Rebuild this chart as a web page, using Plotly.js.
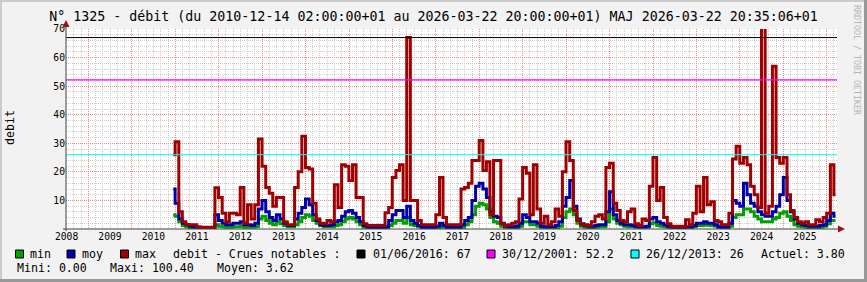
<!DOCTYPE html>
<html><head><meta charset="utf-8">
<script src="https://cdn.plot.ly/plotly-3.0.1.min.js"></script>
<style>html,body{margin:0;padding:0;background:#f2f2f2;}#chart{width:867px;height:282px;}</style>
</head><body><div id="chart"></div>
<script>
// ---------- DATA ----------
const seriesNames = ['min', 'moy', 'max'];
const seriesColors = ['#00a000', '#0000a8', '#a00000'];
const firstMonth = {year: 2010, month: 12};   // first monthly value: Dec 2010 (to Mar 2026)

const maxValues = [
  26,
  30.5, 6, 2.5, 1.5, 1.5, 1.5, 0.8, 0.6, 0.6, 0.6, 0.6, 14.4,
  11, 5.5, 2.5, 5.5, 5.5, 5, 14.5, 2, 8.5, 3.5, 8.5, 31.5,
  22, 14.5, 12.5, 8, 11, 11, 2.5, 1.5, 1.5, 14.5, 20, 32.5,
  21.5, 21, 9, 3.5, 2, 1.8, 3, 2.5, 15.5, 7.5, 22.5, 22,
  17, 22.5, 11, 11, 1.8, 1.2, 1.2, 1.2, 1.2, 1.2, 5.7, 7.5,
  18, 20.5, 22.5, 10, 67, 10, 10, 3, 1.5, 1.5, 1.5, 1.5,
  5, 18, 4, 1.5, 1.5, 1.5, 1.5, 14, 14.5, 16, 24, 24,
  31, 20.5, 23.5, 5, 24, 24, 1.8, 1.2, 1.5, 2, 2.5, 10.5,
  21.5, 19.5, 5, 22.5, 7, 2, 4.5, 1.5, 2.5, 7, 4.5, 20,
  30.5, 24, 6.5, 3, 1.5, 1.5, 1.2, 2.5, 4.5, 5, 3.5, 21.5,
  23, 9, 6.5, 3, 2.5, 6, 7, 1.8, 1.2, 3.5, 3, 15,
  25, 10, 14.5, 4, 1.8, 1, 1, 1, 1, 3.2, 1.5, 5.5,
  15, 6, 18, 8.5, 9.5, 3, 2.5, 1.5, 1.5, 5.5, 24.5, 29,
  23, 25, 22.5, 15, 12, 7.5, 100.4, 5.5, 8, 57, 25, 23,
  25, 12, 6.5, 4, 2.5, 2, 2.5, 1.5, 1.5, 3.2, 2.5, 4,
  5.5, 22.5, 12
];
const moyValues = [
  14,
  9, 3.5, 2, 1.5, 1, 0.8, 0.3, 0.3, 0.3, 0.3, 0.3, 5,
  3, 2, 1.5, 1.5, 2, 2, 2.5, 1.5, 1.5, 1.2, 2, 7,
  10, 6, 4, 3, 5, 3.5, 2, 1.2, 1.2, 3.5, 5.5, 7.5,
  10.5, 8.5, 5, 3, 1.5, 1.2, 1.2, 1.5, 2.5, 3, 4.5, 6,
  6.5, 5.5, 4, 2.5, 1.2, 0.8, 0.6, 0.6, 0.6, 0.6, 0.8, 3,
  5, 6.5, 6.5, 4, 8, 3, 2, 1.2, 0.6, 0.6, 0.6, 0.6,
  1, 2, 1.2, 0.6, 0.6, 0.6, 0.6, 1.5, 3, 4, 10, 15,
  16, 14, 11, 6, 4.5, 4, 2, 1, 0.8, 0.8, 1, 2,
  5, 4, 2.5, 2.5, 2, 1, 0.8, 0.8, 0.8, 1.2, 2.5, 8,
  11, 17, 8, 3.5, 1.8, 1.2, 1, 1, 1.2, 1.5, 1.5, 6,
  13, 5, 3, 2, 1.5, 1.5, 1.2, 1, 0.8, 0.8, 1, 3.5,
  4, 2.5, 2, 1.5, 1, 0.6, 0.6, 0.6, 0.6, 0.8, 0.8, 1.2,
  2, 2, 2.5, 2, 2, 1.5, 0.8, 0.6, 0.6, 2, 10, 9,
  8, 16, 12, 9, 8, 6, 5, 4.5, 4.5, 6, 8, 12,
  18, 10, 6, 3.5, 2, 1.5, 1.2, 1, 1, 1, 1.2, 1.5,
  3, 5.5, 4.5
];
const minValues = [
  5,
  4.5, 2.5, 1.2, 0.8, 0.3, 0.3, 0.3, 0.3, 0.3, 0.3, 0.3, 1.5,
  1, 0.8, 0.6, 0.6, 0.8, 0.8, 1, 0.6, 0.6, 0.6, 0.8, 3.5,
  4.5, 3, 2, 1.5, 2.5, 1.8, 1.2, 0.8, 0.8, 1.5, 2.5, 4,
  5, 4.5, 3, 2, 1.2, 0.8, 0.8, 0.8, 1.2, 1.5, 2.5, 3.5,
  4, 3.5, 2.5, 1.5, 0.6, 0.3, 0.3, 0.3, 0.3, 0.3, 0.3, 1.2,
  2, 3, 3, 2, 4, 1.5, 1.2, 0.8, 0.4, 0.4, 0.4, 0.4,
  0.4, 0.8, 0.6, 0.3, 0.3, 0.3, 0.3, 0.6, 1.5, 2.5, 5, 8,
  9, 8.5, 7, 4, 2.5, 2, 1, 0.6, 0.5, 0.5, 0.5, 1,
  2.5, 2.5, 1.5, 1.5, 1, 0.6, 0.4, 0.4, 0.4, 0.4, 1, 4,
  6, 7, 5, 2, 1, 0.6, 0.5, 0.5, 0.6, 0.8, 0.8, 2.5,
  7, 3.5, 2, 1.5, 1, 0.8, 0.8, 0.6, 0.5, 0.5, 0.6, 1.8,
  2.2, 1.2, 1, 0.8, 0.6, 0.3, 0.3, 0.3, 0.3, 0.4, 0.5, 0.8,
  1.2, 1.2, 1.5, 1.3, 1.2, 1, 0.5, 0.4, 0.4, 1, 4, 5,
  5, 7, 7, 6, 4.5, 3.5, 2.5, 2.5, 2.5, 3.5, 4, 5.5,
  6, 4.5, 3, 1.5, 1, 0.8, 0.6, 0.5, 0.5, 0.5, 0.6, 1,
  1.8, 3, 3
];

const crueDates = ['01/06/2016', '30/12/2001', '26/12/2013'];
const crueValues = [67, 52.2, 26];
const crueColors = ['#000000', '#ff00ff', '#00ffff'];

const yearLabels = ['2008','2009','2010','2011','2012','2013','2014','2015','2016',
                    '2017','2018','2019','2020','2021','2022','2023','2024','2025'];
const yTicks = [10, 20, 30, 40, 50, 60, 70];

const statMini = '0.00', statMaxi = '100.40', statMoyen = '3.62', statActuel = '3.80';
const chartTitle = 'N° 1325 - débit (du 2010-12-14 02:00:00+01 au 2026-03-22 20:00:00+01) MAJ 2026-03-22 20:35:06+01';
const yTitle = 'debit';
const legendHeading = 'debit - Crues notables :';
const watermark = 'RRDTOOL / TOBI OETIKER';

// ---------- BUILD ----------
function pad(n){return (n<10?'0':'')+n;}
const dates = maxValues.map((_, i) => {
  const d = new Date(Date.UTC(firstMonth.year, firstMonth.month - 1 + i, 15));
  return d.getUTCFullYear() + '-' + pad(d.getUTCMonth() + 1) + '-15';
});
const xRange = ['2008-06-26', '2026-03-27'];

const MONO = 'DejaVu Sans Mono';
const L = 66, R = 837, T = 29, B = 229;
const pw = R - L, ph = B - T;
const px = p => (p - L) / pw, py = p => (B - p) / ph;

const traces = [];
crueValues.forEach((v, i) => traces.push({
  x: xRange, y: [v, v], xaxis: 'x2', yaxis: 'y', mode: 'lines',
  line: {color: crueColors[i], width: i === 1 ? 1.4 : 1}, hoverinfo: 'skip', showlegend: false
}));
[minValues, moyValues, maxValues].forEach((vals, i) => traces.push({
  x: dates, y: vals, mode: 'lines', line: {color: seriesColors[i], width: 3, shape: 'hvh'},
  name: seriesNames[i], showlegend: false, hoverinfo: 'skip'
}));

const shapes = [], annotations = [];
// 3D border
shapes.push({type:'rect', xref:'paper', yref:'paper', x0:px(0), x1:px(867), y0:py(0), y1:py(2), fillcolor:'#cbcbcb', line:{width:0}});
shapes.push({type:'rect', xref:'paper', yref:'paper', x0:px(0), x1:px(2), y0:py(0), y1:py(282), fillcolor:'#cbcbcb', line:{width:0}});
shapes.push({type:'rect', xref:'paper', yref:'paper', x0:px(0), x1:px(867), y0:py(279), y1:py(282), fillcolor:'#999999', line:{width:0}});
shapes.push({type:'rect', xref:'paper', yref:'paper', x0:px(864), x1:px(867), y0:py(0), y1:py(282), fillcolor:'#999999', line:{width:0}});
// axes
shapes.push({type:'line', xref:'paper', yref:'paper', x0:px(63), x1:px(840), y0:py(229), y1:py(229), line:{color:'#404040', width:1}});
shapes.push({type:'line', xref:'paper', yref:'paper', x0:px(66), x1:px(66), y0:py(231), y1:py(24), line:{color:'#404040', width:1}});
shapes.push({type:'path', xref:'paper', yref:'paper', fillcolor:'#a01010', line:{width:0},
  path:`M ${px(845)},${py(229)} L ${px(838)},${py(225.5)} L ${px(838)},${py(232.5)} Z`});
shapes.push({type:'path', xref:'paper', yref:'paper', fillcolor:'#a01010', line:{width:0},
  path:`M ${px(66)},${py(20)} L ${px(62.5)},${py(27)} L ${px(69.5)},${py(27)} Z`});

function txt(text, x, y, opts) {
  annotations.push(Object.assign({text, x: px(x), y: py(y), xref:'paper', yref:'paper', showarrow:false,
    xanchor:'left', yanchor:'middle', font:{family:MONO, size:11.6, color:'#000'}, borderpad:0}, opts || {}));
}
function box(x, y, color) {
  shapes.push({type:'rect', xref:'paper', yref:'paper', x0:px(x), x1:px(x+8), y0:py(y+8), y1:py(y), fillcolor:color, line:{color:'#000', width:1}});
}
// legend row 1
const boxX = [15.5, 67, 120.5], textX = [29, 81, 133.5];
seriesNames.forEach((n, i) => { box(boxX[i], 250, seriesColors[i]); txt(n, textX[i], 254); });
txt(legendHeading, 171.5, 254);
const crueBoxX = [357, 487, 631], crueTextX = [371.5, 501, 644.5];
crueValues.forEach((v, i) => { box(crueBoxX[i], 250, crueColors[i]); txt(crueDates[i] + ': ' + v, crueTextX[i], 254); });
txt('Actuel: ' + statActuel, 759.5, 254);
// legend row 2
txt('Mini: ' + statMini, 15.5, 268);
txt('Maxi: ' + statMaxi, 108.5, 268);
txt('Moyen: ' + statMoyen, 215.5, 268);
// y title
annotations.push({text: yTitle, textangle: -90, x: px(10), y: py(127), xref:'paper', yref:'paper', showarrow:false,
  xanchor:'center', yanchor:'middle', font:{family:MONO, size:11.6, color:'#000'}});
// watermark
annotations.push({text: watermark, textangle: 90, x: px(857), y: py(60), xref:'paper', yref:'paper', showarrow:false,
  xanchor:'center', yanchor:'middle', font:{family:MONO, size:8.3, color:'#b4b4b4'}});

const layout = {
  width: 867, height: 282,
  margin: {l: L, r: 867 - R, t: T, b: 282 - B, pad: 0},
  paper_bgcolor: '#f2f2f2', plot_bgcolor: '#ffffff',
  showlegend: false,
  title: {text: chartTitle, font: {family: MONO, size: 13.3, color: '#000'},
          x: 0.5, xref: 'container', xanchor: 'center', y: 1 - 16.5/282, yref: 'container', yanchor: 'middle'},
  xaxis: {type: 'date', range: xRange, tickmode: 'array',
          tickvals: yearLabels.map(y => y + '-07-01'), ticktext: yearLabels,
          showgrid: false, zeroline: false, showline: false, ticks: '',
          tickfont: {family: MONO, size: 9.7, color: '#000'}, fixedrange: true},
  xaxis2: {type: 'date', range: xRange, overlaying: 'x', anchor: 'y', side: 'bottom',
           tickmode: 'linear', tick0: '2009-01-01', dtick: 'M12',
           showgrid: true, gridcolor: '#f08a8a', griddash: '1px,1px', gridwidth: 1,
           showticklabels: false, ticks: '', zeroline: false, showline: false,
           minor: {tickmode: 'linear', tick0: '2009-01-01', dtick: 'M2', showgrid: true,
                   gridcolor: '#cfcfcf', griddash: '1px,1px', gridwidth: 1, ticks: ''}},
  yaxis: {range: [0, 70], tickmode: 'array', tickvals: yTicks, ticktext: yTicks.map(String),
          showgrid: true, gridcolor: '#f08a8a', griddash: '1px,1px', gridwidth: 1,
          zeroline: false, showline: false, ticks: '',
          minor: {tickmode: 'linear', tick0: 0, dtick: 2, showgrid: true, gridcolor: '#cfcfcf',
                  griddash: '1px,1px', gridwidth: 1, ticks: ''},
          tickfont: {family: MONO, size: 9.7, color: '#000'}, fixedrange: true},
  shapes, annotations
};

Plotly.newPlot('chart', traces, layout, {staticPlot: true, displayModeBar: false});
</script>
</body></html>
